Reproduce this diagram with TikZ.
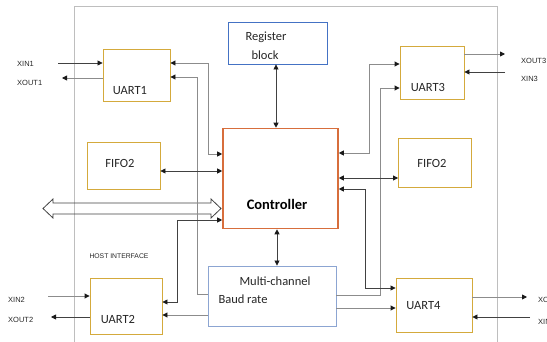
\documentclass[tikz,border=0pt]{standalone}
\usepackage{fontspec}
\setmainfont{Carlito}
\newfontfamily\labfont{Liberation Sans}
\usetikzlibrary{arrows.meta}
\definecolor{gold}{RGB}{212,170,60}
\definecolor{regblue}{RGB}{68,114,196}
\definecolor{mcblue}{RGB}{140,165,210}
\definecolor{ctrlorange}{RGB}{215,110,60}
\definecolor{framegray}{RGB}{190,190,190}
\definecolor{linegray}{RGB}{140,140,140}
\definecolor{linedark}{RGB}{65,65,65}
\definecolor{tipblack}{RGB}{25,25,25}
\begin{document}
\begin{tikzpicture}[x=1pt,y=-1pt,
  box/.style={draw, rectangle, inner sep=0pt, line width=0.9pt},
  ubox/.style={box, draw=gold},
  txt/.style={inner sep=0pt, font=\fontsize{12.5}{14}\selectfont, text=black!85},
  lab/.style={inner sep=0pt, font=\labfont\fontsize{7.5}{9}\selectfont, anchor=west, text=black!85},
  lc/.style={draw=linegray, line width=0.9pt},
  dc/.style={draw=linedark, line width=0.8pt},
  oneway/.style={-{Triangle[length=5pt,width=5pt,color=tipblack]}},
  twoway/.style={{Triangle[length=5pt,width=5pt,color=tipblack]}-{Triangle[length=5pt,width=5pt,color=tipblack]}}]
\useasboundingbox (0,0) rectangle (547,342);
\clip (0,0) rectangle (547,342);

% outer frame
\draw[framegray, line width=0.9pt] (74,342) -- (74,6) -- (497,6) -- (497,342);

% boxes
\node[ubox, minimum width=67pt, minimum height=52pt] (uart1) at (136.5,75) {};
\node[box, draw=regblue, minimum width=99pt, minimum height=42pt] (reg) at (277.5,43) {};
\node[box, draw=ctrlorange, line width=1.6pt, minimum width=115pt, minimum height=100pt] (ctrl) at (280.5,178.5) {};
\node[ubox, minimum width=73pt, minimum height=47pt] (fifoL) at (123.5,165.5) {};
\node[ubox, minimum width=64pt, minimum height=53pt] (uart3) at (432,72.5) {};
\node[ubox, minimum width=73pt, minimum height=49pt] (fifoR) at (435,162.5) {};
\node[box, draw=mcblue, minimum width=128pt, minimum height=60pt] (mc) at (272,296) {};
\node[ubox, minimum width=76pt, minimum height=54pt] (uart4) at (434,305) {};
\node[ubox, minimum width=72pt, minimum height=56pt] (uart2) at (126,306) {};

% texts
\node[txt] (tu1) at (130,91) {UART1};
\node[txt] (treg1) at (266,37) {Register};
\node[txt] (treg2) at (265,55) {block};
\node[txt, font=\bfseries\fontsize{14.5}{16}\selectfont, text=black] (tctrl) at (277,204) {Controller};
\node[txt] (tf1) at (120,163) {FIFO2};
\node[txt] (tu3) at (428,87) {UART3};
\node[txt] (tf2) at (432,163) {FIFO2};
\node[txt] (tmc1) at (275,281) {Multi-channel};
\node[txt] (tmc2) at (243,299) {Baud rate};
\node[txt] (tu4) at (423.5,306) {UART4};
\node[txt] (tu2) at (118,319) {UART2};
\node[inner sep=0pt, font=\labfont\fontsize{6.8}{8}\selectfont, text=black!85] (host) at (119,256) {HOST INTERFACE};

% external labels
\node[lab] (lxin1) at (17,64) {XIN1};
\node[lab] (lxout1) at (17,83) {XOUT1};
\node[lab] (lxout3) at (521,61) {XOUT3};
\node[lab] (lxin3) at (521,79) {XIN3};
\node[lab] (lxin2) at (8,300) {XIN2};
\node[lab] (lxout2) at (8,320) {XOUT2};
\node[lab] (lxout4) at (538,300) {XOUT4};
\node[lab] (lxin4) at (538,322) {XIN4};

% host bus double arrow
\draw[draw=linedark, line width=0.8pt] (43,208.5) -- (53,199) -- (53,203) -- (211,203) -- (211,199) -- (221,208.5) -- (211,218) -- (211,214) -- (53,214) -- (53,218) -- cycle;

% external arrows
\coordinate (xin1) at (58,63);
\coordinate (xout1) at (62,78);
\coordinate (xout3) at (505,54);
\coordinate (xin3) at (505,72);
\coordinate (xin2) at (48,296);
\coordinate (xout2) at (51,317);
\coordinate (xout4) at (527,297);
\coordinate (xin4) at (530,317);
\draw[dc, oneway] (xin1) -- (uart1.west |- xin1);
\draw[lc, oneway] (uart1.west |- xout1) -- (xout1);
\draw[lc, oneway] (uart3.east |- xout3) -- (xout3);
\draw[dc, oneway] (xin3) -- (uart3.east |- xin3);
\draw[lc, oneway] (xin2) -- (uart2.west |- xin2);
\draw[dc, oneway] (uart2.west |- xout2) -- (xout2);
\draw[lc, oneway] (uart4.east |- xout4) -- (xout4);
\draw[dc, oneway] (xin4) -- (uart4.east |- xin4);

% internal connectors
\draw[lc, twoway] (uart1.east |- 0,63) -| (208,154) -- (ctrl.west |- 0,154);
\draw[lc, oneway] (mc.west |- 0,294) -| (197,77) -- (uart1.east |- 0,77);
\draw[dc, twoway] (fifoL.east |- 0,171) -- (ctrl.west |- 0,171);
\draw[dc, twoway] (uart2.east |- 0,302) -| (177,220) -- (ctrl.west |- 0,220);
\draw[lc, oneway] (mc.west |- 0,315) -- (uart2.east |- 0,315);
\draw[dc, twoway] (reg.south -| 276,0) -- (ctrl.north -| 276,0);
\draw[dc, twoway] (ctrl.south -| 277,0) -- (mc.north -| 277,0);
\draw[lc, twoway] (ctrl.east |- 0,153) -| (369,64) -- (uart3.west |- 0,64);
\draw[lc, oneway] (mc.east |- 0,295) -| (380,88) -- (uart3.west |- 0,88);
\draw[dc, twoway] (ctrl.east |- 0,178) -- (fifoR.west |- 0,178);
\draw[dc, twoway] (ctrl.east |- 0,189) -| (365,288) -- (uart4.west |- 0,288);
\draw[lc, oneway] (mc.east |- 0,308) -- (uart4.west |- 0,308);
\end{tikzpicture}
\end{document}
